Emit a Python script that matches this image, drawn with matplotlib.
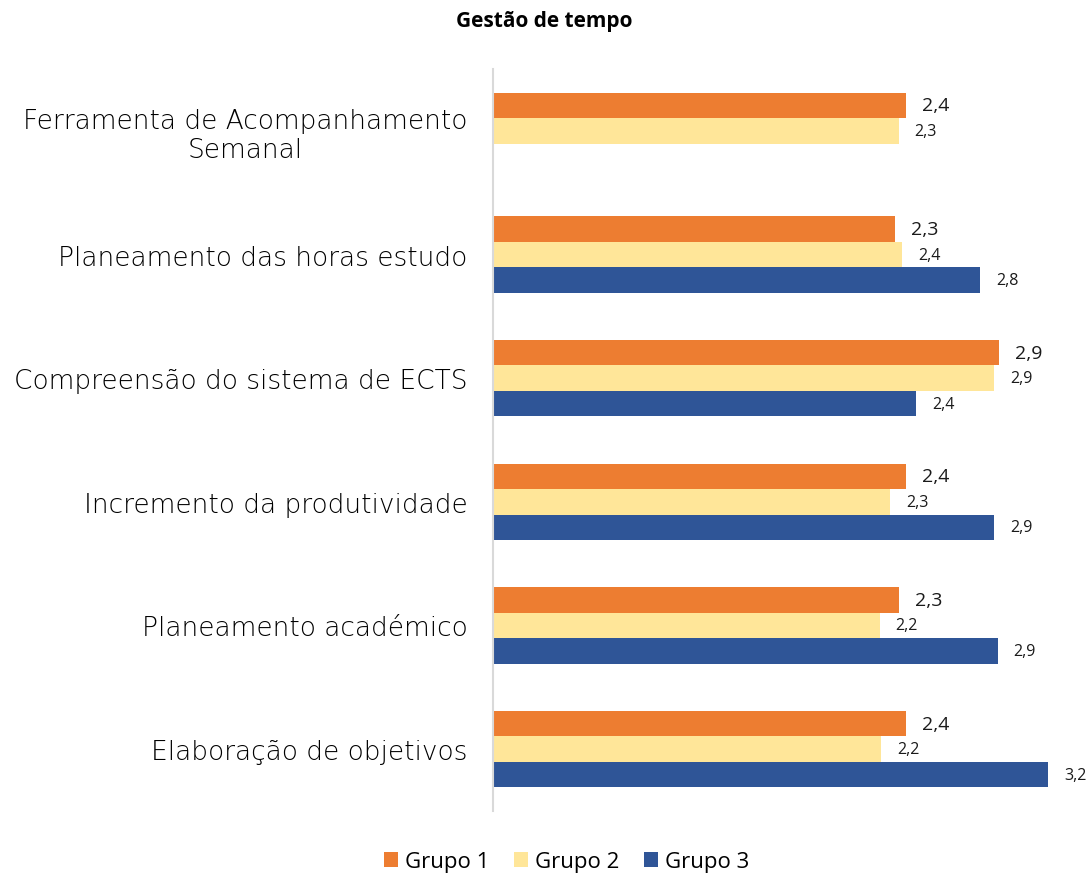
import matplotlib.pyplot as plt
import numpy as np

categorias = ['Ferramenta de Acompanhamento\nSemanal', 'Planeamento das horas estudo',
              'Compreensão do sistema de ECTS', 'Incremento da produtividade',
              'Planeamento académico', 'Elaboração de objetivos']
grupos = ['Grupo 1', 'Grupo 2', 'Grupo 3']

# valores (comprimento das barras)
grupo1 = [2.38, 2.32, 2.92, 2.38, 2.34, 2.38]
grupo2 = [2.34, 2.36, 2.89, 2.29, 2.23, 2.24]
grupo3 = [np.nan, 2.81, 2.44, 2.89, 2.91, 3.20]

# rótulos tal como aparecem no gráfico
rotulos1 = ['2,4', '2,3', '2,9', '2,4', '2,3', '2,4']
rotulos2 = ['2,3', '2,4', '2,9', '2,3', '2,2', '2,2']
rotulos3 = ['', '2,8', '2,4', '2,9', '2,9', '3,2']

cores = ['#ED7D31', '#FFE699', '#2F5597']

fig = plt.figure(figsize=(10.89, 8.78), dpi=100)
ax = fig.add_axes([0.4527, 0.0752, 0.5344, 0.845])

y = np.arange(len(categorias))
h = 0.206
series = [grupo1, grupo2, grupo3]
rotulos = [rotulos1, rotulos2, rotulos3]
tamanhos = [14, 11.5, 11.5]

for i, (vals, labs) in enumerate(zip(series, rotulos)):
    pos = y + (i - 1) * h
    ax.barh(pos, vals, height=h, color=cores[i], label=grupos[i])
    for p, v, t in zip(pos, vals, labs):
        if t:
            ax.text(v + 0.092, p, t, va='center', ha='left', fontsize=tamanhos[i],
                    family='Open Sans', color='#1a1a1a')

ax.set_ylim(len(categorias) - 0.5, -0.5)
ax.set_xlim(0, 3.356)
ax.set_yticks(y)
ax.set_yticklabels(categorias, fontsize=19, color='black', multialignment='center',
                   fontweight='light', linespacing=1.2)
ax.tick_params(axis='y', length=0, pad=18.5)
ax.set_xticks([])
for s in ['top', 'right', 'bottom']:
    ax.spines[s].set_visible(False)
ax.spines['left'].set_color('#d9d9d9')
ax.spines['left'].set_linewidth(1.5)

fig.text(0.5, 0.976, 'Gestão de tempo', ha='center', va='center', fontsize=15,
         fontweight='bold', family='Open Sans')

fig.legend(loc='lower center', bbox_to_anchor=(0.52, -0.017), ncol=3, frameon=False,
           prop={'family': 'Open Sans', 'size': 16}, handlelength=0.65, handleheight=0.65,
           handletextpad=0.3, columnspacing=1.1)

fig.savefig('out.png', dpi=100)
